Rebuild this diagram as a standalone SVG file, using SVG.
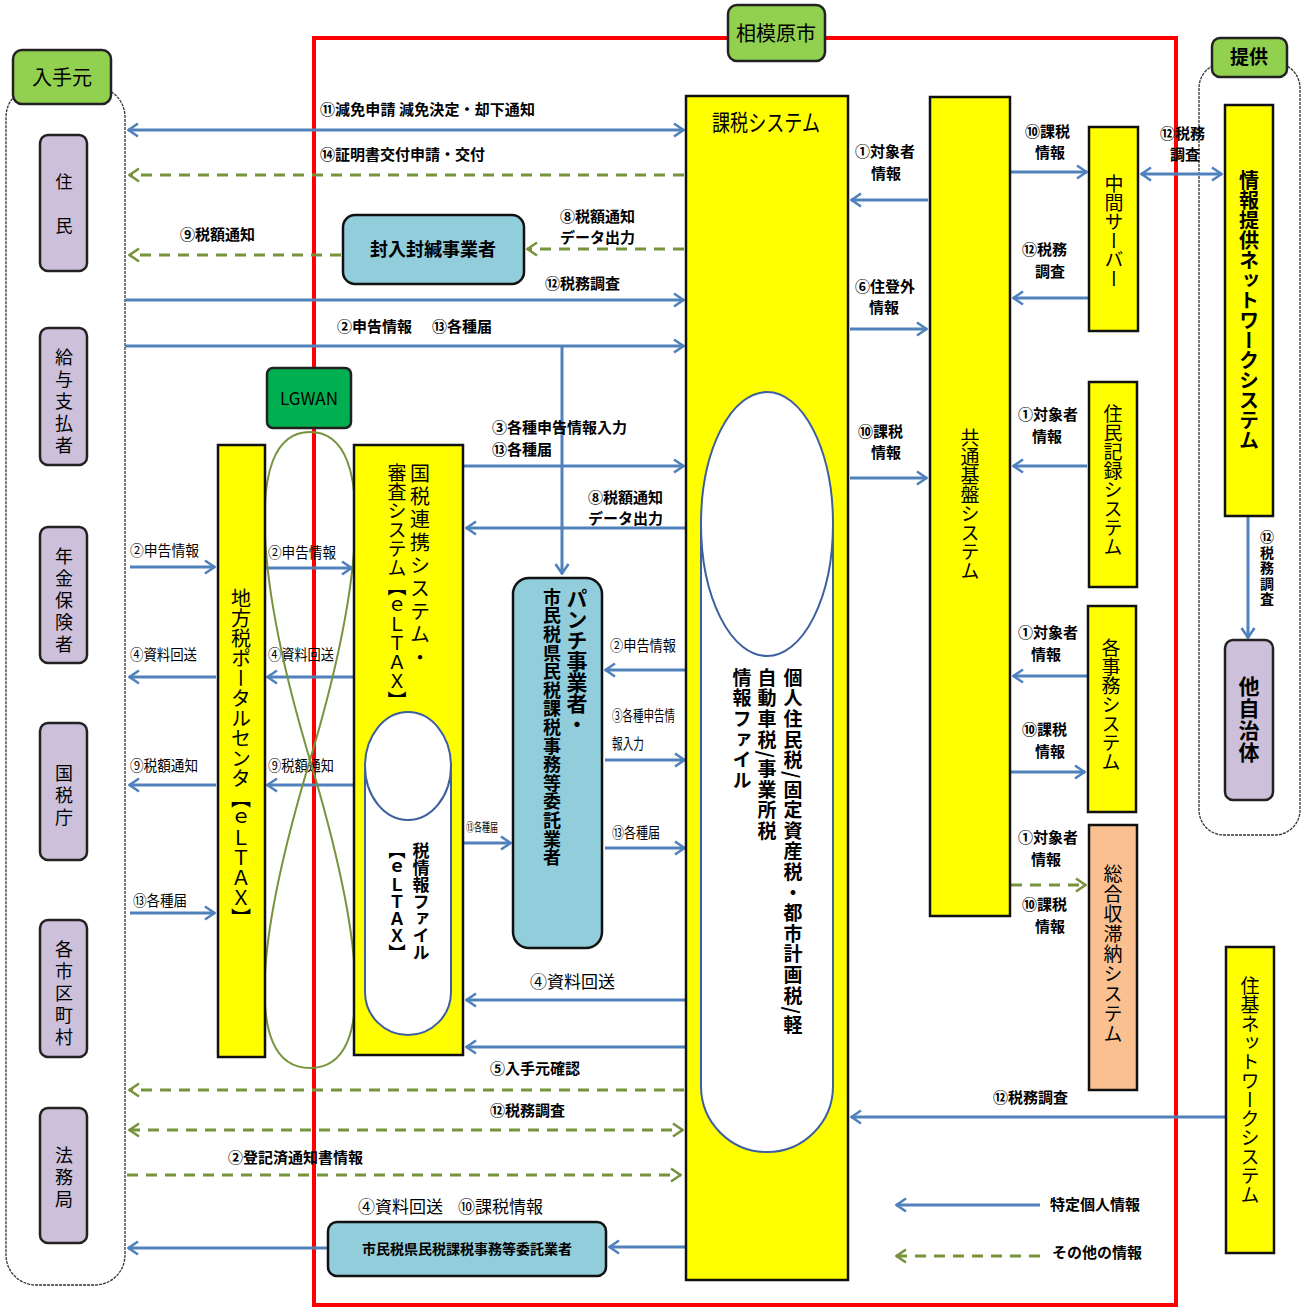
<svg xmlns="http://www.w3.org/2000/svg" width="1306" height="1308" viewBox="0 0 1306 1308">
<style>
text{font-family:"Noto Sans CJK JP","Noto Sans",sans-serif;fill:#000}
.lb{font-size:15px;font-weight:bold}
.ln{font-size:15px}
.v{writing-mode:vertical-rl}
.yel{fill:#ffff00;stroke:#111;stroke-width:2.5}
.pur{fill:#ccc0da;stroke:#222;stroke-width:2.5}
.grn{fill:#92d050;stroke:#222;stroke-width:2.5}
.cyan{fill:#92cddc;stroke:#111;stroke-width:2.5}
.cyl{fill:#fff;stroke:#3d5f9e;stroke-width:2}
.cont{fill:#fff;stroke:#333;stroke-width:1.3;stroke-dasharray:3 1}
.b{stroke:#4f81bd;stroke-width:3;fill:none}
.g{stroke:#77933c;stroke-width:3;fill:none;stroke-dasharray:11 8}
.be{marker-end:url(#ab)}
.bs{marker-start:url(#ab)}
.ge{marker-end:url(#ag)}
.gs{marker-start:url(#ag)}
</style>
<defs>
<marker id="ab" viewBox="0 0 12 16" refX="11" refY="8" markerWidth="12" markerHeight="16" markerUnits="userSpaceOnUse" orient="auto-start-reverse"><path d="M1,1.5 L10.5,8 L1,14.5" fill="none" stroke="#4f81bd" stroke-width="2.6"/></marker>
<marker id="ag" viewBox="0 0 12 16" refX="11" refY="8" markerWidth="12" markerHeight="16" markerUnits="userSpaceOnUse" orient="auto-start-reverse"><path d="M1,1.5 L10.5,8 L1,14.5" fill="none" stroke="#77933c" stroke-width="2.6"/></marker>
</defs>
<rect width="1306" height="1308" fill="#fff"/>

<!-- containers -->
<g id="nyushumoto-container"><rect class="cont" x="6" y="87" width="119" height="1198" rx="30"/></g>
<g id="teikyo-container"><rect class="cont" x="1199" y="63" width="101" height="772" rx="25"/></g>
<g id="sagamihara-frame"><rect x="314" y="38" width="862" height="1267" fill="none" stroke="#ff0000" stroke-width="4"/></g>

<!-- connectors -->
<g id="connectors">
<line class="b be bs" x1="128" y1="130" x2="684" y2="130"/>
<line class="g ge" x1="684" y1="175" x2="129" y2="175"/>
<line class="g ge" x1="341" y1="255" x2="129" y2="255"/>
<line class="g ge" x1="684" y1="249" x2="527" y2="249"/>
<line class="b be" x1="125" y1="300" x2="684" y2="300"/>
<line class="b be" x1="125" y1="346" x2="684" y2="346"/>
<line class="b be" x1="562" y1="346" x2="562" y2="574"/>
<line class="b be" x1="464" y1="466" x2="684" y2="466"/>
<line class="b be" x1="685" y1="528" x2="466" y2="528"/>
<line class="b be" x1="130" y1="567" x2="215" y2="567"/>
<line class="b be" x1="266" y1="568" x2="352" y2="568"/>
<line class="b be" x1="216" y1="677" x2="129" y2="677"/>
<line class="b be" x1="353" y1="677" x2="267" y2="677"/>
<line class="b be" x1="216" y1="785" x2="129" y2="785"/>
<line class="b be" x1="353" y1="785" x2="267" y2="785"/>
<line class="b be" x1="130" y1="913" x2="215" y2="913"/>
<line class="b be" x1="685" y1="670" x2="605" y2="670"/>
<line class="b be" x1="605" y1="760" x2="685" y2="760"/>
<line class="b be" x1="605" y1="848" x2="685" y2="848"/>
<line class="b be" x1="464" y1="843" x2="511" y2="843"/>
<line class="b be" x1="685" y1="1000" x2="466" y2="1000"/>
<line class="b be" x1="685" y1="1047" x2="466" y2="1047"/>
<line class="g ge" x1="684" y1="1090" x2="129" y2="1090"/>
<line class="g ge gs" x1="129" y1="1130" x2="683" y2="1130"/>
<line class="g ge" x1="127" y1="1175" x2="681" y2="1175"/>
<line class="b be" x1="685" y1="1247" x2="609" y2="1247"/>
<line class="b be" x1="327" y1="1248" x2="128" y2="1248"/>
<line class="b be" x1="928" y1="200" x2="851" y2="200"/>
<line class="b be" x1="850" y1="329" x2="927" y2="329"/>
<line class="b be" x1="850" y1="478" x2="927" y2="478"/>
<line class="b be" x1="1011" y1="172" x2="1087" y2="172"/>
<line class="b be" x1="1088" y1="298" x2="1013" y2="298"/>
<line class="b be bs" x1="1141" y1="174" x2="1222" y2="174"/>
<line class="b be" x1="1087" y1="466" x2="1013" y2="466"/>
<line class="b be" x1="1087" y1="676" x2="1013" y2="676"/>
<line class="b be" x1="1011" y1="772" x2="1085" y2="772"/>
<line class="g ge" x1="1011" y1="885" x2="1086" y2="885"/>
<line class="b be" x1="1226" y1="1117" x2="851" y2="1117"/>
<line class="b be" x1="1248" y1="517" x2="1248" y2="638"/>
<line class="b be" x1="1040" y1="1205" x2="896" y2="1205"/>
<line class="g ge" x1="1040" y1="1256" x2="896" y2="1256"/>
</g>

<!-- connector labels -->
<g id="labels">
<text class="lb" x="320" y="115" textLength="215">⑪減免申請  減免決定・却下通知</text>
<text class="lb" x="320" y="160">⑭証明書交付申請・交付</text>
<text class="lb" x="180" y="240">⑨税額通知</text>
<text class="lb" x="560" y="222">⑧税額通知</text>
<text class="lb" x="560" y="243">データ出力</text>
<text class="lb" x="545" y="289">⑫税務調査</text>
<text class="lb" x="337" y="332">②申告情報</text>
<text class="lb" x="432" y="332">⑬各種届</text>
<text class="lb" x="492" y="433">③各種申告情報入力</text>
<text class="lb" x="492" y="455">⑬各種届</text>
<text class="lb" x="588" y="503">⑧税額通知</text>
<text class="lb" x="588" y="524">データ出力</text>
<text class="ln" x="130" y="556" textLength="69" lengthAdjust="spacingAndGlyphs">②申告情報</text>
<text class="ln" x="268" y="558" textLength="68" lengthAdjust="spacingAndGlyphs">②申告情報</text>
<text class="ln" x="130" y="660" textLength="67" lengthAdjust="spacingAndGlyphs">④資料回送</text>
<text class="ln" x="268" y="660" textLength="66" lengthAdjust="spacingAndGlyphs">④資料回送</text>
<text class="ln" x="130" y="771" textLength="68" lengthAdjust="spacingAndGlyphs">⑨税額通知</text>
<text class="ln" x="268" y="771" textLength="66" lengthAdjust="spacingAndGlyphs">⑨税額通知</text>
<text class="ln" x="133" y="906" textLength="54" lengthAdjust="spacingAndGlyphs">⑬各種届</text>
<text class="ln" x="610" y="651" textLength="66" lengthAdjust="spacingAndGlyphs">②申告情報</text>
<text class="ln" x="612" y="721" textLength="63" lengthAdjust="spacingAndGlyphs">③各種申告情</text>
<text class="ln" x="612" y="749" textLength="32" lengthAdjust="spacingAndGlyphs">報入力</text>
<text class="ln" x="612" y="838" textLength="48" lengthAdjust="spacingAndGlyphs">⑬各種届</text>
<text x="466" y="832" font-size="12" textLength="32" lengthAdjust="spacingAndGlyphs">⑬各種届</text>
<text x="530" y="988" font-size="17">④資料回送</text>
<text class="lb" x="490" y="1074">⑤入手元確認</text>
<text class="lb" x="490" y="1116">⑫税務調査</text>
<text class="lb" x="228" y="1163">②登記済通知書情報</text>
<text x="358" y="1213" font-size="17">④資料回送</text>
<text x="458" y="1213" font-size="17">⑩課税情報</text>
<text class="lb" x="855" y="157">①対象者</text>
<text class="lb" x="886" y="179" text-anchor="middle">情報</text>
<text class="lb" x="855" y="292">⑥住登外</text>
<text class="lb" x="884" y="313" text-anchor="middle">情報</text>
<text class="lb" x="858" y="437">⑩課税</text>
<text class="lb" x="886" y="458" text-anchor="middle">情報</text>
<text class="lb" x="1025" y="137">⑩課税</text>
<text class="lb" x="1050" y="158" text-anchor="middle">情報</text>
<text class="lb" x="1022" y="255">⑫税務</text>
<text class="lb" x="1050" y="277" text-anchor="middle">調査</text>
<text class="lb" x="1160" y="139">⑫税務</text>
<text class="lb" x="1185" y="160" text-anchor="middle">調査</text>
<text class="lb" x="1018" y="420">①対象者</text>
<text class="lb" x="1047" y="442" text-anchor="middle">情報</text>
<text class="lb" x="1018" y="638">①対象者</text>
<text class="lb" x="1046" y="660" text-anchor="middle">情報</text>
<text class="lb" x="1022" y="735">⑩課税</text>
<text class="lb" x="1050" y="757" text-anchor="middle">情報</text>
<text class="lb" x="1018" y="843">①対象者</text>
<text class="lb" x="1046" y="865" text-anchor="middle">情報</text>
<text class="lb" x="1022" y="910">⑩課税</text>
<text class="lb" x="1050" y="932" text-anchor="middle">情報</text>
<text class="lb" x="993" y="1103">⑫税務調査</text>
<text class="v" x="1267" y="530" font-size="14" font-weight="bold" letter-spacing="1.5">⑫税務調査</text>
<text class="lb" x="1050" y="1210">特定個人情報</text>
<text class="lb" x="1052" y="1258">その他の情報</text>
</g>

<!-- nodes -->
<g id="nyushumoto"><rect class="grn" x="13" y="50" width="98" height="54" rx="9"/><text x="62" y="85" font-size="20" text-anchor="middle">入手元</text></g>
<g id="sagamihara"><rect class="grn" x="728" y="5" width="97" height="56" rx="9"/><text x="776" y="41" font-size="20" text-anchor="middle">相模原市</text></g>
<g id="teikyo"><rect class="grn" x="1212" y="38" width="75" height="39" rx="8"/><text x="1249" y="64" font-size="19" font-weight="bold" text-anchor="middle">提供</text></g>
<g id="lgwan"><rect x="267" y="368" width="84" height="60" rx="6" fill="#00b050" stroke="#222" stroke-width="2.5"/><text x="309" y="405" font-size="17" font-family="Liberation Sans,Arial,sans-serif" text-anchor="middle">LGWAN</text>
<path d="M310,432 C238,432 262,600 310,760 C358,920 382,1068 310,1068 C238,1068 262,920 310,760 C358,600 382,432 310,432 Z" fill="none" stroke="#77933c" stroke-width="2"/></g>

<g id="jumin"><rect class="pur" x="40" y="135" width="47" height="136" rx="8"/><text x="64" y="188" font-size="17" text-anchor="middle">住</text><text x="64" y="232" font-size="17" text-anchor="middle">民</text></g>
<g id="kyuyo"><rect class="pur" x="40" y="328" width="47" height="137" rx="8"/><text class="v" x="64" y="348" font-size="18" letter-spacing="4">給与支払者</text></g>
<g id="nenkin"><rect class="pur" x="40" y="527" width="47" height="136" rx="8"/><text class="v" x="64" y="547" font-size="18" letter-spacing="4">年金保険者</text></g>
<g id="kokuzeicho"><rect class="pur" x="40" y="723" width="47" height="137" rx="8"/><text class="v" x="64" y="764" font-size="18" letter-spacing="4">国税庁</text></g>
<g id="kakushiku"><rect class="pur" x="40" y="920" width="47" height="137" rx="8"/><text class="v" x="64" y="940" font-size="18" letter-spacing="4">各市区町村</text></g>
<g id="homukyoku"><rect class="pur" x="40" y="1108" width="47" height="135" rx="8"/><text class="v" x="64" y="1146" font-size="18" letter-spacing="4">法務局</text></g>
<g id="tajichitai"><rect class="pur" x="1225" y="640" width="48" height="160" rx="8"/><text class="v" x="1249" y="676" font-size="21" font-weight="bold" letter-spacing="1">他自治体</text></g>

<g id="kazei-system"><rect class="yel" x="686" y="96" width="162" height="1184"/>
<text x="712" y="131" font-size="23" textLength="108" lengthAdjust="spacingAndGlyphs">課税システム</text>
<path class="cyl" d="M701,524 L701,1086 A66,66 0 0 0 833,1086 L833,524 Z"/>
<ellipse class="cyl" cx="767" cy="524" rx="66" ry="132"/>
<text class="v" x="793" y="668" font-size="19" font-weight="bold" letter-spacing="1.6">個人住民税/固定資産税・都市計画税/軽</text>
<text class="v" x="767" y="668" font-size="19" font-weight="bold" letter-spacing="1.6">自動車税/事業所税</text>
<text class="v" x="742" y="668" font-size="19" font-weight="bold" letter-spacing="1.6">情報ファイル</text></g>

<g id="kyotsu-kiban"><rect class="yel" x="930" y="97" width="80" height="819"/><text class="v" x="970" y="428" font-size="19">共通基盤システム</text></g>
<g id="chukan-server"><rect class="yel" x="1089" y="127" width="49" height="204"/><text class="v" x="1114" y="174" font-size="19">中間サーバー</text></g>
<g id="jumin-kiroku"><rect class="yel" x="1089" y="382" width="48" height="205"/><text class="v" x="1113" y="404" font-size="19">住民記録システム</text></g>
<g id="kaku-jimu"><rect class="yel" x="1088" y="606" width="48" height="206"/><text class="v" x="1111" y="638" font-size="19">各事務システム</text></g>
<g id="sogo-shutaino"><rect x="1089" y="825" width="48" height="265" fill="#fac090" stroke="#111" stroke-width="2.5"/><text class="v" x="1113" y="864" font-size="19" letter-spacing="1">総合収滞納システム</text></g>
<g id="joho-teikyo-nw"><rect class="yel" x="1225" y="105" width="48" height="411"/><text class="v" x="1249" y="170" font-size="20" font-weight="bold">情報提供ネットワークシステム</text></g>
<g id="juki-nw"><rect class="yel" x="1226" y="947" width="48" height="306"/><text class="v" x="1250" y="976" font-size="19">住基ネットワークシステム</text></g>
<g id="chihozei-portal"><rect class="yel" x="218" y="445" width="47" height="612"/><text class="v" x="241" y="588" font-size="20">地方税ポータルセンタ【ｅＬＴＡＸ】</text></g>
<g id="kokuzei-renkei"><rect class="yel" x="354" y="445" width="109" height="610"/>
<text class="v" x="420" y="463" font-size="20" letter-spacing="3">国税連携システム・</text>
<text class="v" x="397" y="463" font-size="19">審査システム【ｅＬＴＡＸ】</text>
<path class="cyl" d="M365,766 L365,992 A43,43 0 0 0 451,992 L451,766 Z"/>
<ellipse class="cyl" cx="408" cy="766" rx="43" ry="54"/>
<text class="v" x="421" y="842" font-size="17" font-weight="bold">税情報ファイル</text>
<text class="v" x="397" y="842" font-size="17" font-weight="bold">【ｅＬＴＡＸ】</text></g>

<g id="funyu-fukan"><rect class="cyan" x="343" y="215" width="181" height="69" rx="12"/><text x="433" y="256" font-size="18" font-weight="bold" text-anchor="middle">封入封緘事業者</text></g>
<g id="punch-itaku"><rect class="cyan" x="513" y="578" width="89" height="370" rx="16"/>
<text class="v" x="577" y="588" font-size="21" font-weight="bold">パンチ事業者・</text>
<text class="v" x="552" y="588" font-size="18" font-weight="bold" letter-spacing="0.6">市民税県民税課税事務等委託業者</text></g>
<g id="itaku-gyosha"><rect class="cyan" x="328" y="1222" width="278" height="54" rx="9"/><text x="467" y="1254" font-size="14" font-weight="bold" text-anchor="middle">市民税県民税課税事務等委託業者</text></g>
</svg>
